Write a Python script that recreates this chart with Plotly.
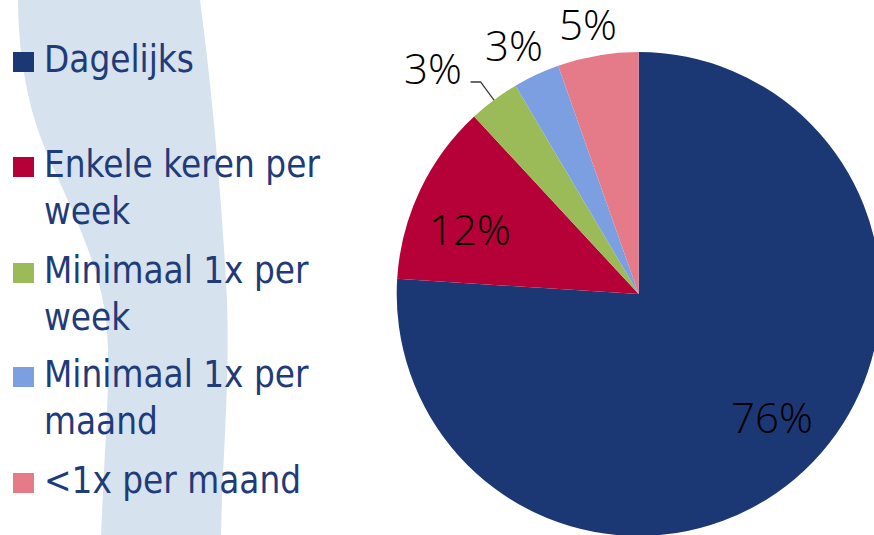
import math
import plotly.graph_objects as go

# window is 874x535; the figure is a little larger so the pie can run off the edge
W, H = 882, 538

# ---- data ----
categories = ["Dagelijks", "Enkele keren per<br>week", "Minimaal 1x per<br>week",
              "Minimaal 1x per<br>maand", "<1x per maand"]
values = [76.0, 12.1, 3.4, 3.1, 5.4]
labels_text = [f"{v:.0f}%" for v in values]

# ---- style ----
colors = ["#1C3874", "#B50038", "#9BBB59", "#7B9FE0", "#E57B89"]
text_color = "#1F3B7A"
legend_font = "DejaVu Sans Condensed, DejaVu Sans"
label_font = "Open Sans"


def X(x):
    return x / W


def Y(y):
    return 1 - y / H


# pie geometry (screen pixels)
PCX, PCY, PR = 638.7, 294.0, 242.0

fig = go.Figure()
fig.add_trace(go.Pie(
    labels=[c.replace("<br>", " ") for c in categories],
    values=values,
    sort=False,
    direction="clockwise",
    rotation=0,
    marker=dict(colors=colors, line=dict(width=0)),
    textinfo="none",
    showlegend=False,
    automargin=False,
    hoverinfo="label+percent",
    domain=dict(x=[X(PCX - PR), X(PCX + PR)], y=[Y(PCY + PR), Y(PCY - PR)]),
))

# slice labels, placed along each slice's mid angle (computed from the values)
label_r = [0.748, 0.748, 1.264, 1.152, 1.139]
label_dang = [-4.0, -4.1, -5.6, -1.55, -0.9]
total = sum(values)
cum = 0.0
mids = []
for v in values:
    mids.append(360.0 * (cum + v / 2) / total)
    cum += v
for txt, mid, fr, da in zip(labels_text, mids, label_r, label_dang):
    a = math.radians(mid + da)
    lx = PCX + fr * PR * math.sin(a)
    ly = PCY - fr * PR * math.cos(a)
    fig.add_annotation(x=X(lx), y=Y(ly), xref="paper", yref="paper", text=txt,
                       showarrow=False, xanchor="center", yanchor="middle",
                       font=dict(family=label_font, size=42, color="black", weight=300))

# leader line for the green slice label
a = math.radians(mids[2])
p0 = (PCX + PR * math.sin(a), PCY - PR * math.cos(a))
p1 = (PCX + 1.093 * PR * math.sin(a), PCY - 1.093 * PR * math.cos(a))
p2 = (p1[0] - 10, p1[1])
fig.add_shape(type="path", xref="paper", yref="paper",
              path=f"M {X(p0[0])},{Y(p0[1])} L {X(p1[0])},{Y(p1[1])} L {X(p2[0])},{Y(p2[1])}",
              line=dict(color="#3A3A3A", width=1.3))

# decorative background band
band = (f"M {X(18)},{Y(0)} L {X(200)},{Y(0)} "
        f"C {X(212)},{Y(90)} {X(222)},{Y(200)} {X(227)},{Y(300)} "
        f"C {X(230)},{Y(390)} {X(222)},{Y(460)} {X(221)},{Y(540)} "
        f"L {X(101)},{Y(540)} "
        f"C {X(104)},{Y(450)} {X(112)},{Y(370)} {X(106)},{Y(320)} "
        f"C {X(98)},{Y(250)} {X(55)},{Y(180)} {X(38)},{Y(130)} "
        f"C {X(24)},{Y(90)} {X(18)},{Y(40)} {X(18)},{Y(0)} Z")
fig.add_shape(type="path", path=band, xref="paper", yref="paper",
              fillcolor="#D6E2EE", line=dict(width=0), layer="below")

# legend built from the categories
centers = [62, 167, 273, 377, 483]
fs = 36.5
for cat, col, cy in zip(categories, colors, centers):
    fig.add_shape(type="rect", xref="paper", yref="paper",
                  x0=X(13), x1=X(34), y0=Y(cy + 10), y1=Y(cy - 10),
                  fillcolor=col, line=dict(width=0))
    fig.add_annotation(x=X(42), y=Y(cy - 26), xref="paper", yref="paper",
                       text=cat, showarrow=False, xanchor="left", yanchor="top",
                       align="left",
                       font=dict(family=legend_font, size=fs, color=text_color))

fig.update_layout(
    width=W, height=H,
    margin=dict(l=0, r=0, t=0, b=0, autoexpand=False),
    paper_bgcolor="white",
    plot_bgcolor="white",
    showlegend=False,
)

# let the figure fill the window exactly (no default page margin / scrollbars)
page_js = ("document.body.style.margin='0';"
           "document.body.style.overflow='hidden';"
           "document.documentElement.style.overflow='hidden';")
fig.write_html("out.html", post_script=page_js, config={"displayModeBar": False})
